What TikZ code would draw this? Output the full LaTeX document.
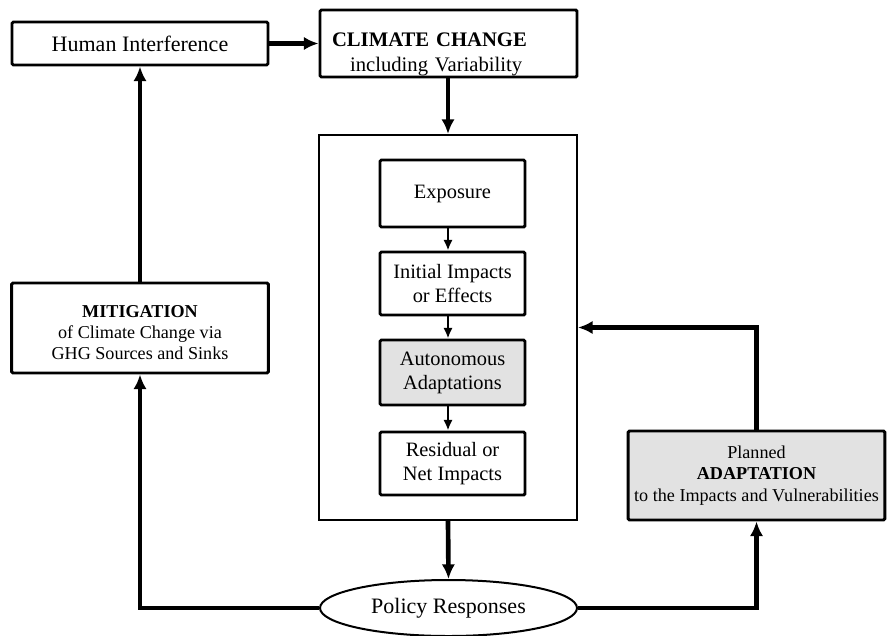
\documentclass[tikz,border=0pt]{standalone}
\usepackage{fontspec}
\setmainfont{Liberation Serif}
\usetikzlibrary{arrows.meta,shapes.geometric}

\tikzset{every picture/.style={line width=0.75pt}}
\tikzset{
  boxnode/.style={draw, line width=2.2pt, rounded corners=1pt, inner sep=0.75pt, align=center},
  grayfill/.style={fill={rgb, 255:red, 226; green, 226; blue, 226}},
  innerbox/.style={boxnode, minimum width=108.75pt, font=\fontsize{15.3}{18}\selectfont},
  outerbox/.style={boxnode, minimum width=192.5pt, font=\fontsize{13.6}{15.6}\selectfont},
  thickarrow/.style={line width=3.5pt, -{Latex[length=11pt,width=10pt]}},
  thinarrow/.style={line width=2.2pt, -{Latex[length=8pt,width=7pt]}},
}

\begin{document}
\begin{tikzpicture}[x=0.75pt,y=0.75pt,yscale=-1,xscale=1]
    %set diagram size to 887 x 635
    \useasboundingbox (0,0) rectangle (887,635);

    %Shape: Rectangle [Human Interference]
    \node [boxnode, minimum width=192pt, minimum height=32.25pt, font=\fontsize{16.5}{19}\selectfont] (hum) at (140,43.5) {Human Interference};
    %Shape: Rectangle [Climate Change]
    \node [boxnode, align=left, text width=174.75pt, inner xsep=9pt, minimum height=50.25pt, font=\fontsize{15.5}{18.75}\selectfont] (clim) at (448.5,43.5) {\rule{0pt}{26pt}\textbf{CLIMATE CHANGE}\\\hspace*{13.5pt}including Variability};
    %Shape: Rectangle [frame round the impacts]
    \node [draw, line width=1.5pt, minimum width=193.5pt, minimum height=288.75pt] (frame) at (448,327.5) {};

    %Shape: Rectangle [Exposure]
    \node [innerbox, minimum height=50.25pt] (expo) at (452.5,193.5) {Exposure};
    %Shape: Rectangle [Initial Impacts]
    \node [innerbox, minimum height=47.25pt] (init) at (452.5,283.5) {Initial Impacts\\ or Effects};
    %Shape: Rectangle [Autonomous Adaptations]
    \node [innerbox, grayfill, minimum height=48.75pt] (auto) at (452.5,372.5) {Autonomous\\Adaptations};
    %Shape: Rectangle [Residual Impacts]
    \node [innerbox, minimum height=47.25pt] (resi) at (452.5,463.5) {Residual or\\Net Impacts};

    %Shape: Rectangle [Mitigation]
    \node [outerbox, minimum height=67.5pt] (miti) at (140,328) {\rule{0pt}{16pt}\textbf{MITIGATION}\\of Climate Change via\\GHG Sources and Sinks};
    %Shape: Rectangle [Planned Adaptation]
    \node [outerbox, grayfill, minimum height=66.75pt, font=\fontsize{13.6}{16}\selectfont] (adapt) at (756.5,475.5) {Planned\\\textbf{ADAPTATION}\\to the Impacts and Vulnerabilities};

    %Shape: Ellipse [Policy Responses]
    \node [draw, ellipse, line width=1.5pt, minimum width=192.75pt, minimum height=42pt, inner sep=0pt, font=\fontsize{16.5}{19}\selectfont] (poli) at (448.5,608) {Policy Responses};

    %Straight Lines
    \draw [thickarrow] (hum.east) -- (clim.west);
    \draw [thickarrow] (clim.south -| frame.north) -- (frame.north);
    \draw [thinarrow] (expo.south -| frame.north) -- (init.north -| frame.north);
    \draw [thinarrow] (init.south -| frame.north) -- (auto.north -| frame.north);
    \draw [thinarrow] (auto.south -| frame.north) -- (resi.north -| frame.north);
    \draw [thickarrow] (frame.south) -- (poli.north);
    %Elbow Lines
    \draw [thickarrow] (poli.west) -| (miti.south);
    \draw [thickarrow] (miti.north) -- (hum.south);
    \draw [thickarrow] (poli.east) -| (adapt.south);
    \draw [thickarrow] (adapt.north) |- (frame.east);

\end{tikzpicture}
\end{document}
